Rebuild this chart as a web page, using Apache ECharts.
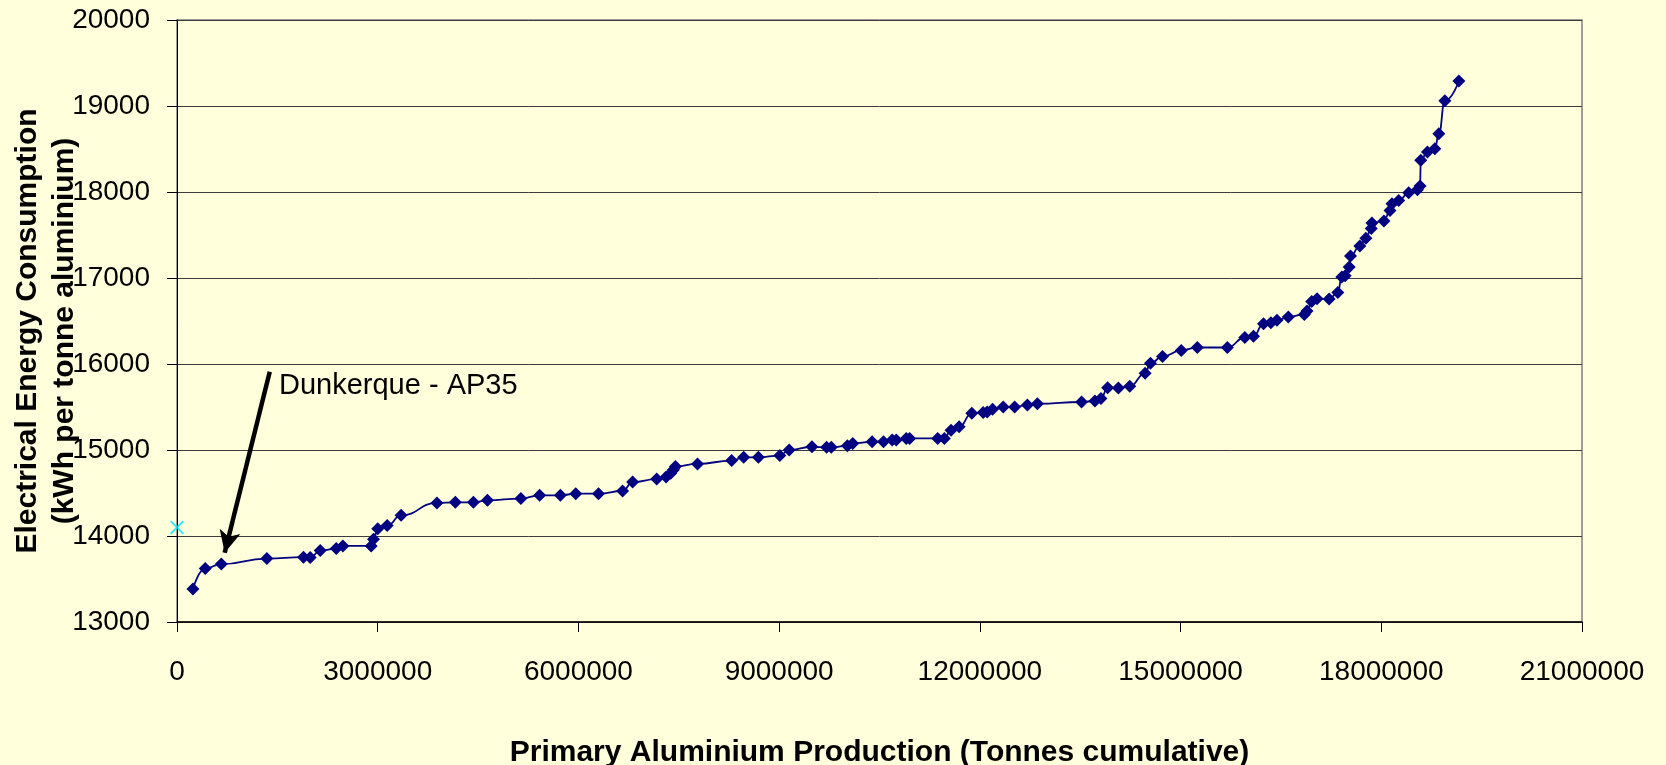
<!DOCTYPE html>
<html>
<head>
<meta charset="utf-8">
<script src="https://cdn.jsdelivr.net/npm/echarts@6/dist/echarts.min.js"></script>
<style>
html,body{margin:0;padding:0;background:#FFFFDC;}
#chart{width:1666px;height:765px;}
</style>
</head>
<body>
<div id="chart"></div>
<script>
// Cumulative primary aluminium production (tonnes)
const production = [
  238000, 422000, 662000, 1343000, 1891000, 1991000, 2141000, 2380000, 2479000, 2902000,
  2937000, 3001000, 3142000, 3350000, 3885000, 4160000, 4430000, 4640000, 5140000, 5420000,
  5730000, 5960000, 6300000, 6660000, 6810000, 7170000, 7310000, 7380000, 7420000, 7450000,
  7780000, 8290000, 8470000, 8690000, 9010000, 9150000, 9490000, 9710000, 9780000, 10020000,
  10100000, 10390000, 10560000, 10690000, 10750000, 10900000, 10950000, 11370000, 11470000, 11570000,
  11690000, 11880000, 12050000, 12110000, 12190000, 12350000, 12520000, 12710000, 12860000, 13520000,
  13720000, 13810000, 13910000, 14070000, 14240000, 14470000, 14550000, 14730000, 15010000, 15250000,
  15700000, 15960000, 16090000, 16240000, 16350000, 16440000, 16610000, 16850000, 16890000, 16960000,
  17040000, 17220000, 17350000, 17410000, 17460000, 17520000, 17540000, 17680000, 17770000, 17850000,
  17860000, 18040000, 18130000, 18160000, 18260000, 18410000, 18540000, 18580000, 18590000, 18690000,
  18800000, 18860000, 18950000, 19160000
];
// Electrical energy consumption (kWh per tonne aluminium)
const consumption = [
  13385, 13623, 13673, 13738, 13754, 13750, 13831, 13854, 13885, 13885,
  13962, 14085, 14123, 14240, 14385, 14392, 14392, 14415, 14435, 14473,
  14473, 14492, 14492, 14523, 14627, 14662, 14685, 14730, 14770, 14808,
  14838, 14877, 14915, 14915, 14935, 15000, 15038, 15031, 15031, 15050,
  15077, 15096, 15096, 15115, 15115, 15135, 15135, 15135, 15135, 15231,
  15269, 15427, 15435, 15442, 15473, 15500, 15500, 15523, 15538, 15558,
  15570, 15600, 15725, 15720, 15740, 15892, 16008, 16088, 16158, 16192,
  16192, 16308, 16323, 16469, 16481, 16508, 16546, 16577, 16615, 16727,
  16758, 16755, 16831, 17012, 17027, 17129, 17255, 17373, 17463, 17576,
  17639, 17663, 17784, 17863, 17900, 17990, 18025, 18071, 18370, 18466,
  18504, 18676, 19061, 19290
];
// Reference point (cyan cross)
const refProduction = [0];
const refConsumption = [14100];
// Axis ranges / ticks
const xTicks = [0, 3000000, 6000000, 9000000, 12000000, 15000000, 18000000, 21000000];
const yTicks = [13000, 14000, 15000, 16000, 17000, 18000, 19000, 20000];
// Annotation
const annotationText = 'Dunkerque - AP35';
const arrowFrom = [1386000, 15909];
const arrowTo = [713000, 13805];

const FONT = "'Liberation Sans', Arial, sans-serif";
const mainData = production.map((x, i) => [x, consumption[i]]);
const refData = refProduction.map((x, i) => [x, refConsumption[i]]);

const chart = echarts.init(document.getElementById('chart'));
chart.setOption({
  backgroundColor: '#FFFFDC',
  animation: false,
  textStyle: { fontFamily: FONT },
  grid: {
    left: 177, top: 20, width: 1405, height: 602,
    show: true, borderColor: '#808080', borderWidth: 1.5, backgroundColor: 'transparent',
    outerBoundsMode: 'none', containLabel: false
  },
  xAxis: {
    type: 'value',
    min: xTicks[0], max: xTicks[xTicks.length - 1], interval: xTicks[1] - xTicks[0],
    name: 'Primary Aluminium Production (Tonnes cumulative)',
    nameLocation: 'middle', nameGap: 116,
    nameTextStyle: { fontSize: 30, fontWeight: 'bold', color: '#000', fontFamily: FONT },
    axisLine: { show: true, onZero: false, lineStyle: { color: '#000', width: 1.5 } },
    axisTick: { show: true, inside: false, length: 10, lineStyle: { color: '#000', width: 1 } },
    axisLabel: { fontSize: 28, color: '#000', margin: 36, fontFamily: FONT, formatter: v => String(v) },
    splitLine: { show: false }
  },
  yAxis: {
    type: 'value',
    min: yTicks[0], max: yTicks[yTicks.length - 1], interval: yTicks[1] - yTicks[0],
    name: 'Electrical Energy Consumption\n(kWh per tonne aluminium)',
    nameLocation: 'middle', nameGap: 94, nameRotate: 90,
    nameMoveOverlap: false,
    nameTextStyle: { fontSize: 30, fontWeight: 'bold', color: '#000', lineHeight: 37, fontFamily: FONT, padding: [0, 20, 0, 0] },
    axisLine: { show: true, onZero: false, lineStyle: { color: '#000', width: 1 } },
    axisTick: { show: true, inside: false, length: 10, lineStyle: { color: '#000', width: 1 } },
    axisLabel: { fontSize: 28, color: '#000', margin: 27, fontFamily: FONT, formatter: v => String(v) },
    splitLine: { show: true, lineStyle: { color: '#3c3c3c', width: 1 } }
  },
  series: [
    {
      name: 'Smelters',
      type: 'line',
      data: mainData,
      smooth: 0.5,
      smoothMonotone: 'x',
      symbol: 'diamond',
      symbolSize: 13,
      lineStyle: { color: '#000080', width: 1.8 },
      itemStyle: { color: '#000080' },
      z: 3
    },
    {
      name: 'Reference',
      type: 'scatter',
      data: refData,
      symbol: 'path://M0,1L1,0L5,4L9,0L10,1L6,5L10,9L9,10L5,6L1,10L0,9L4,5Z',
      symbolSize: 14,
      itemStyle: { color: '#00E5FF' },
      clip: false,
      z: 4,
      markLine: {
        silent: true,
        symbol: ['none', 'arrow'],
        symbolSize: [16, 22],
        lineStyle: { color: '#000', width: 4.5, type: 'solid' },
        label: { show: false },
        data: [[{ coord: arrowFrom }, { coord: arrowTo }]]
      }
    }
  ],
  graphic: [
    {
      type: 'text', left: 279, top: 371, z: 10,
      style: { text: annotationText, fontSize: 29, fontFamily: FONT, fill: '#000' }
    }
  ]
});
</script>
</body>
</html>
